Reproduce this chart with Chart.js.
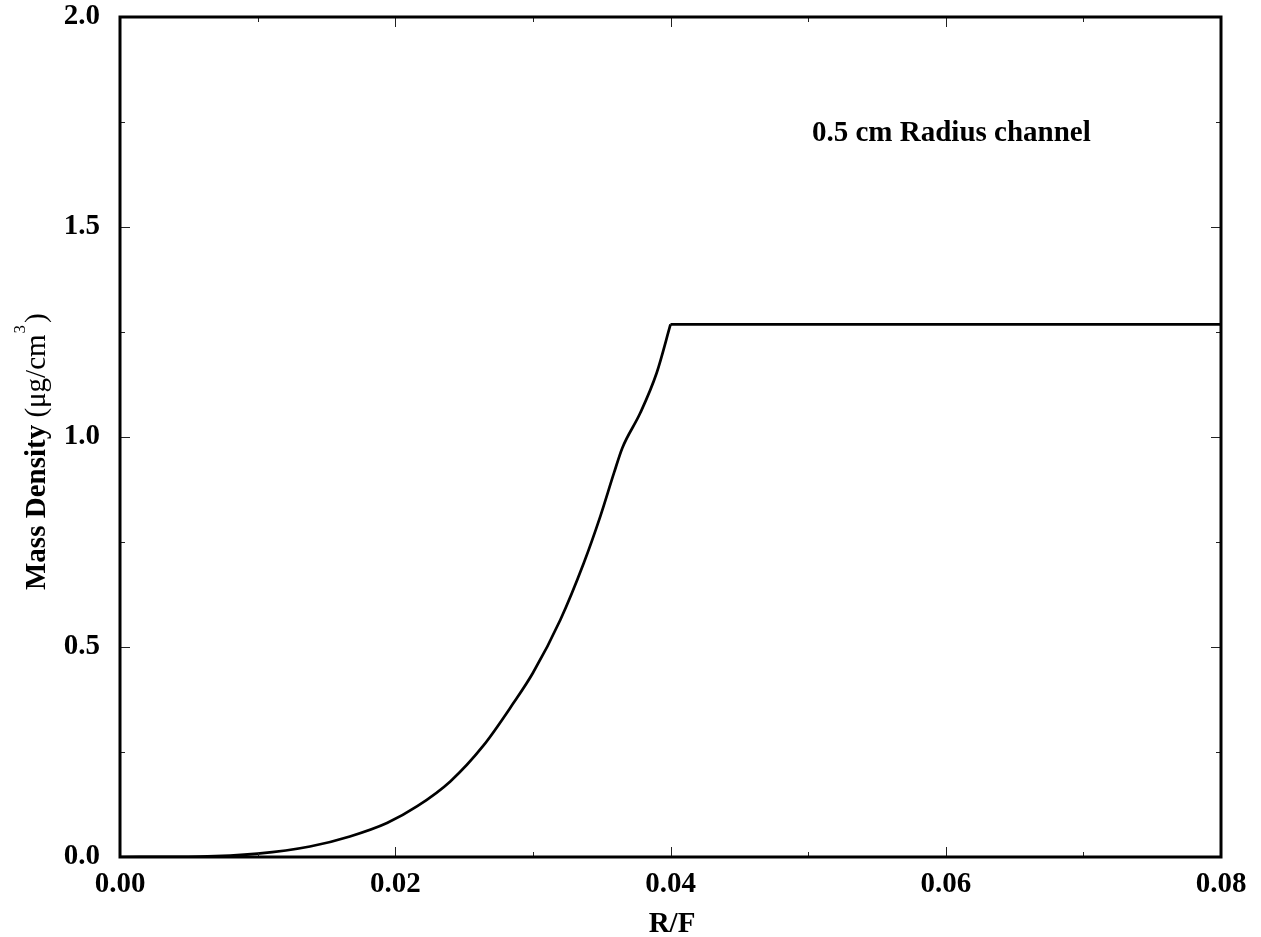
<!DOCTYPE html>
<html>
<head>
<meta charset="utf-8">
<script src="https://cdn.jsdelivr.net/npm/chart.js@4"></script>
<style>
  html, body { margin: 0; padding: 0; background: #fff; }
  #wrap { width: 1261px; height: 937px; }
</style>
</head>
<body>
<div id="wrap"><canvas id="densityChart" width="1261" height="937"></canvas></div>
<script>
(function () {
    "use strict";

    // Rising part of the density profile (R/F vs mass density, ug/cm^3)
    var rfRise = [0, 0.0058, 0.0100, 0.0138, 0.0167, 0.0194, 0.0216, 0.0240, 0.0264, 0.0286,
                  0.0300, 0.0320, 0.0337, 0.0349, 0.0359, 0.0365, 0.0378, 0.0390, 0.0400];
    var densityRise = [0, 0.001, 0.008, 0.025, 0.049, 0.081, 0.121, 0.180, 0.265, 0.367,
                       0.438, 0.565, 0.700, 0.811, 0.915, 0.974, 1.057, 1.153, 1.268];

    // Flat part beyond the channel edge
    var rfPlateau = [0.0400, 0.0800];
    var densityPlateau = [1.268, 1.268];

    var xTicks = [0, 0.02, 0.04, 0.06, 0.08];
    var yTicks = [0, 0.5, 1.0, 1.5, 2.0];

    var SERIF = '"Liberation Serif", "Times New Roman", serif';

    function toPoints(xs, ys) {
        return xs.map(function (x, i) { return { x: x, y: ys[i] }; });
    }

    // Frame, inward tick marks on all four sides, titles and annotation
    var framePlugin = {
        id: "frame",
        afterDatasetsDraw: function (chart) {
            var ctx = chart.ctx;
            var a = chart.chartArea;
            var sx = chart.scales.x, sy = chart.scales.y;
            var v, p;

            ctx.save();
            ctx.strokeStyle = "#222";
            ctx.lineWidth = 1;
            ctx.beginPath();
            for (v = 0; v <= 8; v++) {
                p = Math.round(sx.getPixelForValue(v * 0.01)) + 0.5;
                var lx = (v % 2 === 0) ? 10 : 5;
                ctx.moveTo(p, a.bottom); ctx.lineTo(p, a.bottom - lx);
                ctx.moveTo(p, a.top); ctx.lineTo(p, a.top + lx);
            }
            for (v = 0; v <= 8; v++) {
                p = Math.round(sy.getPixelForValue(v * 0.25)) + 0.5;
                var ly = (v % 2 === 0) ? 10 : 5;
                ctx.moveTo(a.left, p); ctx.lineTo(a.left + ly, p);
                ctx.moveTo(a.right, p); ctx.lineTo(a.right - ly, p);
            }
            ctx.stroke();

            ctx.strokeStyle = "#000";
            ctx.lineWidth = 3;
            ctx.strokeRect(a.left, a.top, a.right - a.left, a.bottom - a.top);

            ctx.fillStyle = "#000";
            ctx.textBaseline = "alphabetic";

            // annotation
            ctx.font = "bold 29px " + SERIF;
            ctx.textAlign = "left";
            ctx.fillText("0.5 cm Radius channel", 812, 141);

            // x title
            ctx.textAlign = "center";
            ctx.fillText("R/F", 672, 932);

            // y title, bold words then normal-weight unit with superscript
            ctx.translate(45, 590);
            ctx.rotate(-Math.PI / 2);
            ctx.textAlign = "left";
            var cx = 0;
            ctx.font = "bold 29px " + SERIF;
            ctx.fillText("Mass Density ", cx, 0);
            cx += ctx.measureText("Mass Density ").width;
            ctx.font = "29px " + SERIF;
            ctx.fillText("(\u03bcg/cm", cx, 0);
            cx += ctx.measureText("(\u03bcg/cm").width;
            ctx.font = "17px " + SERIF;
            ctx.fillText("3", cx + 1, -20);
            cx += ctx.measureText("3").width + 3;
            ctx.font = "29px " + SERIF;
            ctx.fillText(")", cx, 0);
            ctx.restore();
        }
    };

    new Chart(document.getElementById("densityChart"), {
        type: "scatter",
        data: {
            datasets: [{
                data: toPoints(rfRise, densityRise),
                showLine: true,
                borderColor: "#000",
                borderWidth: 2.7,
                pointRadius: 0,
                cubicInterpolationMode: "monotone",
                fill: false
            }, {
                data: toPoints(rfPlateau, densityPlateau),
                showLine: true,
                borderColor: "#000",
                borderWidth: 2.7,
                pointRadius: 0,
                tension: 0,
                fill: false
            }]
        },
        options: {
            responsive: false,
            animation: false,
            layout: { padding: { left: 0, top: 17, right: 40, bottom: 0 } },
            plugins: {
                legend: { display: false },
                tooltip: { enabled: false }
            },
            scales: {
                x: {
                    type: "linear",
                    min: 0,
                    max: 0.08,
                    grid: { display: false, drawTicks: false },
                    border: { display: false },
                    afterFit: function (s) {
                        s.height = 80;
                        s.paddingLeft = 0;
                        s.paddingRight = 0;
                    },
                    afterBuildTicks: function (s) {
                        s.ticks = xTicks.map(function (t) { return { value: t }; });
                    },
                    ticks: {
                        color: "#000",
                        padding: 10,
                        maxRotation: 0,
                        font: { family: SERIF, size: 29, weight: "bold" },
                        callback: function (v) { return v.toFixed(2); }
                    }
                },
                y: {
                    type: "linear",
                    min: 0,
                    max: 2.0,
                    grid: { display: false, drawTicks: false },
                    border: { display: false },
                    afterFit: function (s) {
                        s.width = 120;
                        s.paddingTop = 0;
                        s.paddingBottom = 0;
                    },
                    afterBuildTicks: function (s) {
                        s.ticks = yTicks.map(function (t) { return { value: t }; });
                    },
                    ticks: {
                        color: "#000",
                        padding: 20,
                        font: { family: SERIF, size: 29, weight: "bold" },
                        callback: function (v) { return v.toFixed(1); }
                    }
                }
            }
        },
        plugins: [framePlugin]
    });
})();
</script>
</body>
</html>
